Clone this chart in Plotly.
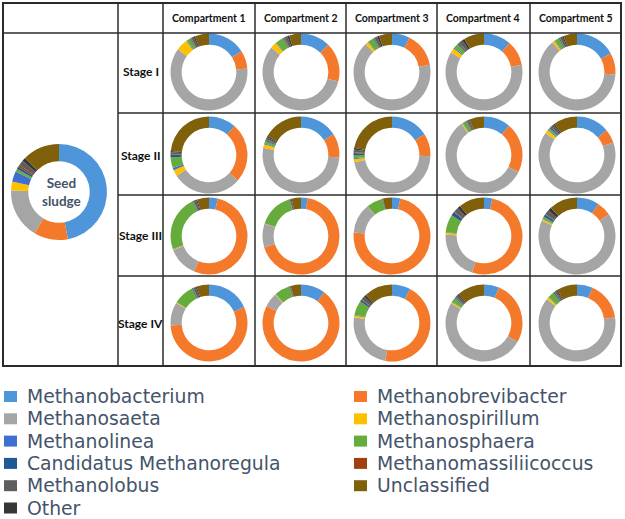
import plotly.graph_objects as go

# ---------------- data ----------------
genera = ["Methanobacterium", "Methanobrevibacter", "Methanosaeta", "Methanospirillum",
          "Methanolinea", "Methanosphaera", "Candidatus Methanoregula", "Methanomassiliicoccus",
          "Methanolobus", "Unclassified", "Other"]
colors = ["#4F95DA", "#F5792A", "#A5A5A5", "#FFC000", "#3F6FD0", "#66AC3C",
          "#1F5A96", "#A0400F", "#5E5E5E", "#80600A", "#363636"]

compartments = ["Compartment 1", "Compartment 2", "Compartment 3", "Compartment 4", "Compartment 5"]
stages = ["Stage I", "Stage II", "Stage III", "Stage IV"]

# relative abundance (%) in legend order (genera list)
seed_sludge = [47, 11.5, 17, 3, 3.5, 1, 0.8, 0.7, 1.8, 12.5, 1.2]

stage_I = [
    [16, 7.5, 61.5, 5, 0.3, 1.5, 0.3, 0.3, 1.0, 6.0, 0.6],
    [12.5, 16.5, 57, 2.5, 0.3, 3.5, 0.4, 0.3, 1.2, 5.0, 0.8],
    [7.5, 14.5, 66, 1.2, 0.2, 2.5, 0.3, 0.3, 1.2, 5.5, 0.8],
    [11.5, 10.5, 61.5, 2, 0.5, 2, 0.6, 0.3, 1.5, 8.6, 1.0],
    [17, 9, 63, 1, 0.3, 1.8, 0.4, 0.2, 1.0, 5.7, 0.6],
]
stage_II = [
    [11.5, 25, 29.5, 2.5, 1.0, 4.5, 1.0, 0.3, 0.8, 23.3, 0.6],
    [16, 10, 52, 1.5, 0.4, 1.0, 0.5, 0.3, 1.0, 16.7, 0.6],
    [16, 9.5, 46.5, 1.2, 0.5, 1.3, 0.8, 0.3, 1.2, 22.0, 0.7],
    [11.3, 21, 57.7, 0.5, 0.2, 1.5, 0.3, 0.2, 0.8, 6.2, 0.3],
    [13.9, 5.8, 65, 1.5, 0.4, 0.8, 0.6, 0.2, 1.3, 9.9, 0.6],
]
stage_III = [
    [3.7, 52.6, 12.8, 0.2, 0.2, 23.5, 0.3, 0.2, 1.0, 5.0, 0.5],
    [2.8, 67.5, 9.9, 0.1, 0.1, 14.5, 0.2, 0.1, 0.5, 4.0, 0.3],
    [3.5, 73, 12.5, 0.1, 0.1, 6.5, 0.1, 0.1, 0.2, 3.8, 0.1],
    [3.5, 51.5, 20.5, 0.8, 0.3, 7.5, 1.5, 0.4, 2.0, 10.7, 1.3],
    [9.3, 6.2, 66, 0.8, 0.3, 0.8, 1.0, 0.3, 2.0, 11.9, 1.4],
]
stage_IV = [
    [18.2, 55.8, 9.7, 0.3, 0.2, 8.5, 0.4, 0.2, 1.0, 5.2, 0.5],
    [10.3, 72, 6, 0.2, 0.1, 6.3, 0.2, 0.1, 0.3, 4.3, 0.2],
    [7.8, 45, 24.6, 0.8, 0.3, 6.0, 0.8, 0.3, 1.5, 12.0, 0.9],
    [6.4, 26.7, 50.5, 0.6, 0.3, 1.8, 0.4, 0.2, 1.0, 11.5, 0.6],
    [6.6, 16, 63, 1.0, 0.3, 2.5, 0.5, 0.2, 0.9, 8.5, 0.5],
]
stage_data = [stage_I, stage_II, stage_III, stage_IV]

# slice drawing order (clockwise from 12 o'clock): "Other" drawn just before "Unclassified"
slice_order = [0, 1, 2, 3, 4, 5, 6, 7, 8, 10, 9]

# ---------------- layout geometry (pixels) ----------------
W, H = 625, 519
col_lines = [3, 118, 163, 255, 346, 437, 530, 621]
row_lines = [3, 33, 113, 195, 276, 366]
donut_cx = [209, 301, 392, 484, 577]
donut_cy = [72, 155, 236, 323]
donut_d = 77
seed_c = (59, 192)
seed_d = 96


def px(x):
    return x / W


def py(y):
    return 1 - y / H


def domain(cx, cy, d):
    return dict(x=[px(cx - d / 2), px(cx + d / 2)], y=[py(cy + d / 2), py(cy - d / 2)])


def donut(vals, cx, cy, d, hole, name):
    return go.Pie(
        labels=[genera[i] for i in slice_order],
        values=[vals[i] for i in slice_order],
        marker=dict(colors=[colors[i] for i in slice_order], line=dict(width=0)),
        sort=False, direction="clockwise", rotation=0, hole=hole,
        textinfo="none", showlegend=False, name=name,
        domain=domain(cx, cy, d),
    )


fig = go.Figure()
fig.add_trace(donut(seed_sludge, seed_c[0], seed_c[1], seed_d, 0.64, "Seed sludge"))
for si, stage in enumerate(stage_data):
    for ci, vals in enumerate(stage):
        fig.add_trace(donut(vals, donut_cx[ci], donut_cy[si], donut_d, 0.71,
                            f"{stages[si]} {compartments[ci]}"))

# ---------------- table grid ----------------
shapes = []
line_col = "#2b2b2b"
shapes.append(dict(type="rect", xref="paper", yref="paper",
                   x0=px(col_lines[0]), x1=px(col_lines[-1]),
                   y0=py(row_lines[-1]), y1=py(row_lines[0]),
                   line=dict(color=line_col, width=2)))
for x in col_lines[1:-1]:
    shapes.append(dict(type="line", xref="paper", yref="paper",
                       x0=px(x), x1=px(x), y0=py(row_lines[0]), y1=py(row_lines[-1]),
                       line=dict(color=line_col, width=1.5)))
shapes.append(dict(type="line", xref="paper", yref="paper",
                   x0=px(col_lines[0]), x1=px(col_lines[-1]), y0=py(row_lines[1]), y1=py(row_lines[1]),
                   line=dict(color=line_col, width=1.5)))
for y in row_lines[2:-1]:
    shapes.append(dict(type="line", xref="paper", yref="paper",
                       x0=px(col_lines[1]), x1=px(col_lines[-1]), y0=py(y), y1=py(y),
                       line=dict(color=line_col, width=1.5)))

annotations = []
for ci, name in enumerate(compartments):
    annotations.append(dict(x=px((col_lines[ci + 2] + col_lines[ci + 3]) / 2), y=py(18),
                            xref="paper", yref="paper", text=f"<b>{name}</b>", showarrow=False,
                            font=dict(family="Lato", size=10.5, color="#111111"),
                            xanchor="center", yanchor="middle"))
for si, name in enumerate(stages):
    annotations.append(dict(x=px((col_lines[1] + col_lines[2]) / 2), y=py(donut_cy[si]),
                            xref="paper", yref="paper", text=f"<b>{name}</b>", showarrow=False,
                            font=dict(family="Lato", size=12, color="#111111"),
                            xanchor="center", yanchor="middle"))
annotations.append(dict(x=px(seed_c[0] + 2), y=py(seed_c[1]), xref="paper", yref="paper",
                        text="<b>Seed<br>sludge</b>", showarrow=False,
                        font=dict(family="Lato", size=13.5, color="#44546A"),
                        xanchor="center", yanchor="middle"))

# ---------------- legend (two columns, row-wise) ----------------
leg_rows = [396.5, 418.8, 441.1, 463.4, 485.7, 508]
leg_cols = [4, 354]
leg_font = dict(family="DejaVu Sans", size=18.8, color="#44546A")


def legend_item(k, x0, y):
    shapes.append(dict(type="rect", xref="paper", yref="paper",
                       x0=px(x0), x1=px(x0 + 13), y0=py(y + 5.5), y1=py(y - 5.5),
                       fillcolor=colors[k], line=dict(width=0)))
    annotations.append(dict(x=px(x0 + 22), y=py(y), xref="paper", yref="paper", text=genera[k],
                            showarrow=False, xanchor="left", yanchor="middle",
                            borderpad=0, font=leg_font))


for k in range(10):
    r, c = divmod(k, 2)
    legend_item(k, leg_cols[c], leg_rows[r])
legend_item(10, leg_cols[0], leg_rows[5])

fig.update_layout(width=W, height=H, autosize=False,
                  margin=dict(l=0, r=0, t=0, b=0),
                  paper_bgcolor="white", plot_bgcolor="white",
                  shapes=shapes, annotations=annotations, showlegend=False)

fig.write_html("out.html", config={"displayModeBar": False},
               post_script="document.body.style.margin='0';")
